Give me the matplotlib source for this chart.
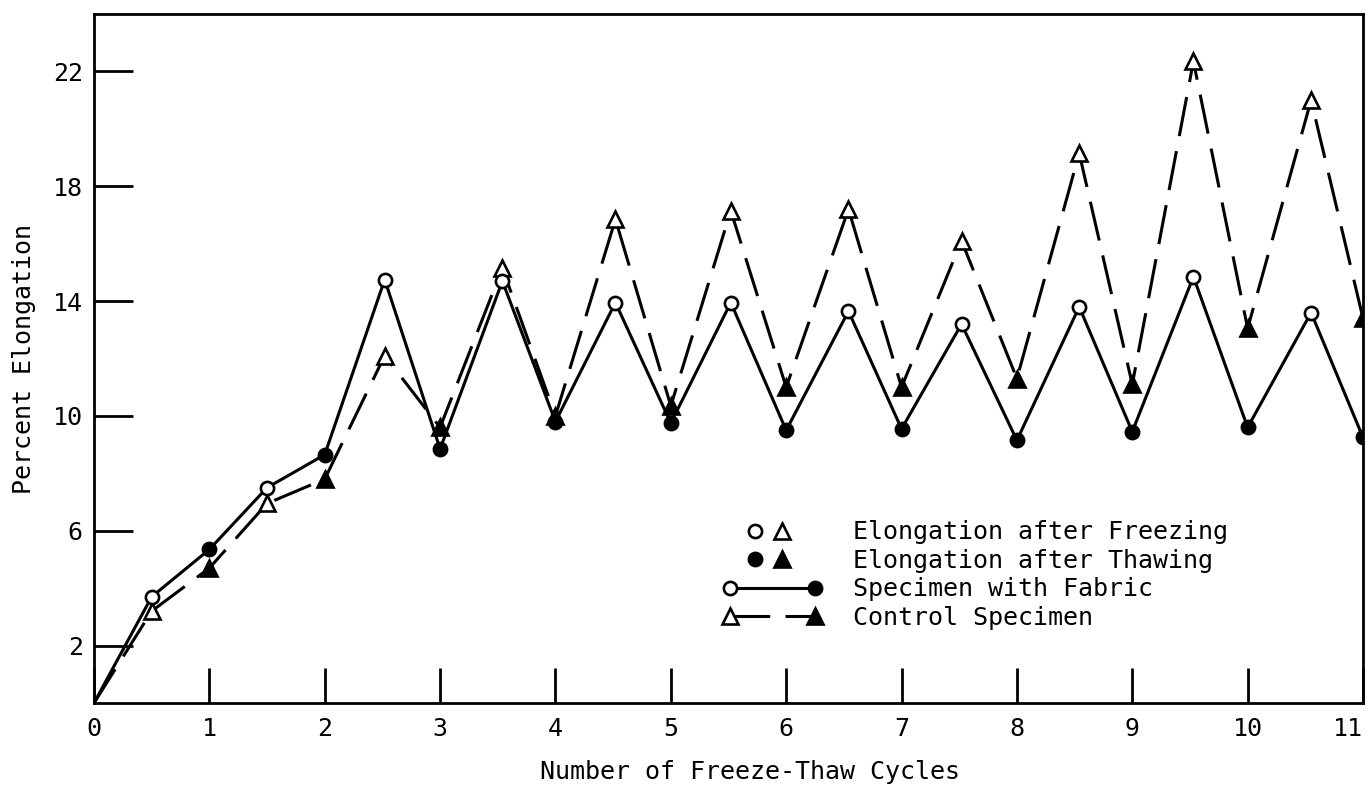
import matplotlib
matplotlib.use("Agg")
import matplotlib.pyplot as plt
from matplotlib.legend_handler import HandlerBase
from matplotlib.lines import Line2D

plt.rcParams['font.family'] = ['DejaVu Sans Mono', 'DejaVu Sans']

# freezing readings (open markers) sit near the half cycles, thawing readings on whole cycles
freeze_cycles = [0.5, 1.5, 2.52, 3.54, 4.52, 5.52, 6.54, 7.52, 8.54, 9.53, 10.55]
thaw_cycles = [1, 2, 3, 4, 5, 6, 7, 8, 9, 10, 11]

fabric_freeze = [3.7, 7.5, 14.75, 14.7, 13.95, 13.95, 13.65, 13.2, 13.8, 14.85, 13.6]
fabric_thaw = [5.35, 8.65, 8.85, 9.8, 9.75, 9.5, 9.55, 9.15, 9.45, 9.6, 9.25]
control_freeze = [3.2, 6.95, 12.1, 15.15, 16.85, 17.15, 17.2, 16.1, 19.15, 22.35, 21.0]
control_thaw = [4.7, 7.8, 9.6, 10.0, 10.35, 11.0, 11.0, 11.3, 11.1, 13.05, 13.4]
start_cycle = 0
start_value = 0

x_ticks = list(range(0, 12))
y_ticks = [2, 6, 10, 14, 18, 22]

legend_labels = ["Elongation after Freezing", "Elongation after Thawing",
                 "Specimen with Fabric", "Control Specimen"]


def zigzag(fx, fy, tx, ty):
    xs, ys = [start_cycle], [start_value]
    for a, b, c, d in zip(fx, fy, tx, ty):
        xs += [a, c]
        ys += [b, d]
    return xs, ys


LW = 2.2
MEW = 1.9
DASH = (13, 5)
FS = 18


class KeyHandler(HandlerBase):
    # hand-drawn style legend key: markers at fractions of the box, optional line between
    def __init__(self, marks, line=None):
        super().__init__()
        self.marks = marks
        self.line = line

    def create_artists(self, legend, orig_handle, xdescent, ydescent,
                       width, height, fontsize, trans):
        y = (height - ydescent) / 2.0
        arts = []
        if self.line is not None:
            f0, f1 = self.marks[0][0], self.marks[-1][0]
            ln = Line2D([-xdescent + f0 * width, -xdescent + f1 * width], [y, y],
                        color='black', lw=LW)
            if self.line == 'dash':
                ln.set_dashes(DASH)
            arts.append(ln)
        for frac, mk, filled, ms in self.marks:
            m = Line2D([-xdescent + frac * width], [y], marker=mk, ms=ms,
                       mfc='black' if filled else 'white', mec='black', mew=MEW,
                       ls='none')
            arts.append(m)
        for a in arts:
            a.set_transform(trans)
        return arts


fig = plt.figure(figsize=(13.7, 7.87), dpi=100)
ax = fig.add_axes([0.0686, 0.1067, 0.9263, 0.8755])

cx, cy = zigzag(freeze_cycles, control_freeze, thaw_cycles, control_thaw)
fx, fy = zigzag(freeze_cycles, fabric_freeze, thaw_cycles, fabric_thaw)

ax.plot(cx, cy, color='black', lw=LW, dashes=DASH, zorder=2)
ax.plot(fx, fy, color='black', lw=LW, zorder=2)

ax.plot(freeze_cycles, control_freeze, ls='none', marker='^', ms=11.5,
        mfc='white', mec='black', mew=MEW, zorder=3)
ax.plot(thaw_cycles, control_thaw, ls='none', marker='^', ms=11.5,
        mfc='black', mec='black', mew=MEW, zorder=3)
ax.plot(freeze_cycles, fabric_freeze, ls='none', marker='o', ms=9.5,
        mfc='white', mec='black', mew=MEW, zorder=4)
ax.plot(thaw_cycles, fabric_thaw, ls='none', marker='o', ms=9.5,
        mfc='black', mec='black', mew=MEW, zorder=4)

ax.set_xlim(0, 11)
ax.set_ylim(0, 24)
ax.set_xticks(x_ticks)
ax.set_yticks(y_ticks)
ax.tick_params(axis='both', direction='in', width=2, labelsize=FS)
ax.tick_params(axis='x', length=25, pad=10)
ax.tick_params(axis='y', length=28, pad=8)
for s in ax.spines.values():
    s.set_linewidth(2)
# last label sits against the right edge of the frame
ax.get_xticklabels()[-1].set_horizontalalignment('right')

ax.set_xlabel("Number of Freeze-Thaw Cycles", fontsize=FS)
ax.set_ylabel("Percent Elongation", fontsize=FS, labelpad=12)
ax.xaxis.set_label_coords(0.517, -0.083)

h = [object(), object(), object(), object()]
handlers = {
    h[0]: KeyHandler([(0.33, 'o', False, 9.5), (0.6, '^', False, 11.5)]),
    h[1]: KeyHandler([(0.33, 'o', True, 9.5), (0.6, '^', True, 11.5)]),
    h[2]: KeyHandler([(0.08, 'o', False, 9.5), (0.93, 'o', True, 9.5)], line='solid'),
    h[3]: KeyHandler([(0.08, '^', False, 11.5), (0.93, '^', True, 11.5)], line='dash'),
}
ax.legend(h, legend_labels, handler_map=handlers, loc='upper left',
          bbox_to_anchor=(0.495, 0.265), frameon=False, fontsize=FS,
          handlelength=72 / FS, handletextpad=22.3 / FS, labelspacing=0.18,
          borderpad=0, borderaxespad=0)

fig.savefig("out.png", dpi=100)
